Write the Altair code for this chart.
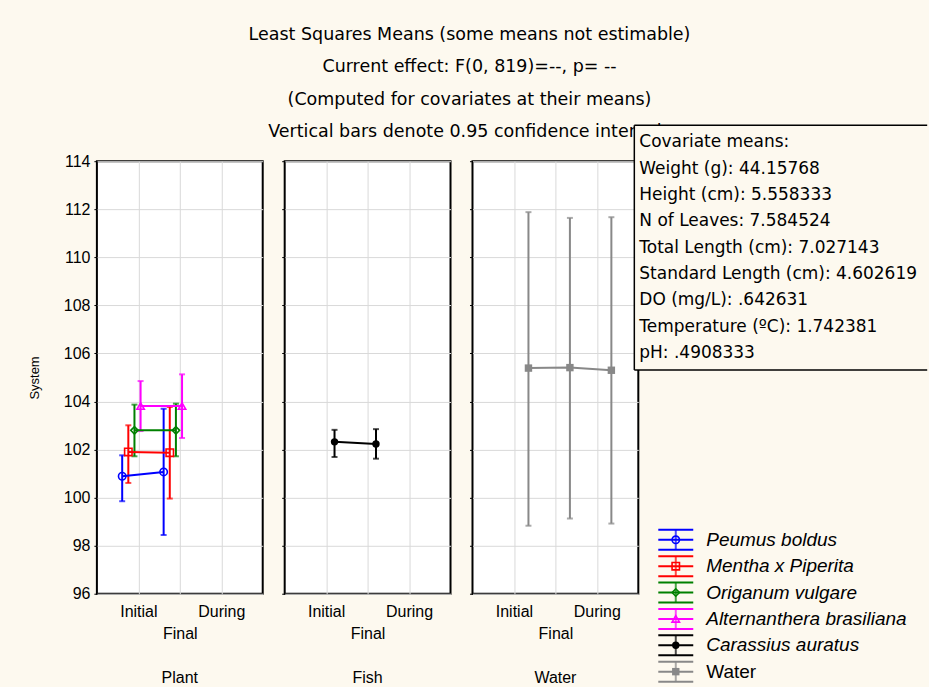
import altair as alt
import pandas as pd

# ---------------- data ----------------
SERIES = ["Peumus boldus", "Mentha x Piperita", "Origanum vulgare",
          "Alternanthera brasiliana", "Carassius auratus", "Water"]
SERIES_PANEL = ["Plant", "Plant", "Plant", "Plant", "Fish", "Water"]
PANELS = ["Plant", "Fish", "Water"]
TIMES = ["Initial", "Final", "During"]

ROW_SERIES = ["Peumus boldus", "Peumus boldus",
              "Mentha x Piperita", "Mentha x Piperita",
              "Origanum vulgare", "Origanum vulgare",
              "Alternanthera brasiliana", "Alternanthera brasiliana",
              "Carassius auratus", "Carassius auratus",
              "Water", "Water", "Water"]
ROW_TIME = ["Initial", "Final", "Initial", "Final", "Initial", "Final",
            "Initial", "Final", "Initial", "Final",
            "Initial", "Final", "During"]
ROW_MEAN = [100.89, 101.07, 101.90, 101.87, 102.80, 102.80,
            103.81, 103.81, 102.32, 102.23, 105.39, 105.41, 105.30]
ROW_LOW = [99.85, 98.44, 100.61, 99.96, 101.72, 101.72,
           102.77, 102.48, 101.69, 101.62, 98.83, 99.13, 98.92]
ROW_HIGH = [101.76, 103.70, 103.01, 103.77, 103.87, 103.91,
            104.85, 105.13, 102.82, 102.85, 111.88, 111.64, 111.67]

Y_TICKS = [96, 98, 100, 102, 104, 106, 108, 110, 112, 114]

TITLE_LINES = ["Least Squares Means (some means not estimable)",
               "Current effect: F(0, 819)=--, p=  --",
               "(Computed for covariates at their means)",
               "Vertical bars denote 0.95 confidence intervals"]
COVARIATE_LINES = ["Covariate means:",
                   "Weight (g): 44.15768",
                   "Height (cm): 5.558333",
                   "N of Leaves: 7.584524",
                   "Total Length (cm): 7.027143",
                   "Standard Length (cm): 4.602619",
                   "DO (mg/L): .642631",
                   "Temperature (ºC): 1.742381",
                   "pH: .4908333"]

# ---------------- styles ----------------
COLORS = ["#0000ff", "#ff0000", "#008000", "#ff00ff", "#000000", "#888888"]
SHAPES = ["circle", "square", "diamond", "triangle-up", "circle", "square"]
FILLED_SERIES = ["Carassius auratus", "Water"]
BG = "#fdf9ef"
GRID = "#d9d9d9"
FONT = "Liberation Sans"
FONT_WIDE = "DejaVu Sans"
DODGE_START = -0.39   # series dodge, in category units
DODGE_STEP = 0.148
PANEL_W = 166
PANEL_H = 433

df = pd.DataFrame({"series": ROW_SERIES, "time": ROW_TIME,
                   "mean": ROW_MEAN, "low": ROW_LOW, "high": ROW_HIGH})
df["panel"] = [SERIES_PANEL[SERIES.index(s)] for s in df["series"]]
df["xpos"] = [TIMES.index(t) + 1 + DODGE_START + DODGE_STEP * SERIES.index(s)
              for s, t in zip(df["series"], df["time"])]

COLOR = alt.Color("series:N", scale=alt.Scale(domain=SERIES, range=COLORS), legend=None)
SHAPE = alt.Shape("series:N", scale=alt.Scale(domain=SERIES, range=SHAPES), legend=None)

LABEL_EXPR = "datum.value == 1 ? 'Initial' : (datum.value == 3 ? 'During' : '')"


def panel(name, first):
    d = df[df["panel"] == name]
    xaxis = alt.Axis(values=[1, 2, 3], labelExpr=LABEL_EXPR, labelOverlap=False,
                     title="Final", grid=True, ticks=False, tickSize=0, domain=False,
                     labelPadding=10, titlePadding=6)
    X = alt.X("xpos:Q", scale=alt.Scale(domain=[0, 4], nice=False, zero=False), axis=xaxis)
    if first:
        yaxis = alt.Axis(values=Y_TICKS, grid=True, domain=False, tickSize=3,
                         labelPadding=4, title="System", titleFontSize=13,
                         titleX=-62, titleBaseline="middle")
    else:
        yaxis = alt.Axis(values=Y_TICKS, grid=True, domain=False, tickSize=3,
                         labels=False, title=None)
    ysc = alt.Scale(domain=[96, 114], nice=False, zero=False)

    def Y(field):
        return alt.Y(f"{field}:Q", scale=ysc, axis=yaxis)

    base = alt.Chart(d)
    bars = base.mark_rule(strokeWidth=2).encode(x=X, y=Y("low"), y2="high", color=COLOR)
    cap_lo = base.mark_tick(orient="horizontal", size=6, thickness=2).encode(
        x=X, y=Y("low"), color=COLOR)
    cap_hi = base.mark_tick(orient="horizontal", size=6, thickness=2).encode(
        x=X, y=Y("high"), color=COLOR)
    line = base.mark_line(strokeWidth=2).encode(x=X, y=Y("mean"), color=COLOR,
                                                detail="series:N")
    filled = name != "Plant"
    pts = base.mark_point(filled=filled, size=55, strokeWidth=1.6, opacity=1).encode(
        x=X, y=Y("mean"), color=COLOR, shape=SHAPE)
    return alt.layer(bars, cap_lo, cap_hi, line, pts).properties(
        width=PANEL_W, height=PANEL_H,
        title=alt.TitleParams(name, orient="bottom", anchor="middle", offset=28,
                              fontSize=16, font=FONT, fontWeight="normal", color="black"))


# ---------------- legend / annotation column ----------------
one = pd.DataFrame({"k": [0]})
leg_df = pd.DataFrame({"series": SERIES})
YL = alt.Y("series:N", scale=alt.Scale(type="point", domain=SERIES, range=[379, 511], padding=0),
           axis=None)

title_txt = alt.Chart(one).mark_text(
    text=TITLE_LINES, lineHeight=32.6, align="center", baseline="middle",
    font=FONT_WIDE, fontSize=17.5, color="black").encode(x=alt.value(-191), y=alt.value(-126.7))

box = alt.Chart(one).mark_rect(fill=BG).encode(
    x=alt.value(-26), x2=alt.value(268), y=alt.value(-36), y2=alt.value(209))
box_top = alt.Chart(one).mark_rule(color="black", strokeWidth=1.5).encode(
    x=alt.value(-26), x2=alt.value(267.2), y=alt.value(-36))
box_left = alt.Chart(one).mark_rule(color="black", strokeWidth=1.5).encode(
    x=alt.value(-26), y=alt.value(-36), y2=alt.value(209))
box_bottom = alt.Chart(one).mark_rule(color="black", strokeWidth=1.5).encode(
    x=alt.value(-26), x2=alt.value(267.2), y=alt.value(209))
box_txt = alt.Chart(one).mark_text(
    text=COVARIATE_LINES, lineHeight=26.4, align="left", baseline="middle",
    font=FONT_WIDE, fontSize=17, color="black").encode(x=alt.value(-21), y=alt.value(-19))

lb = alt.Chart(leg_df)
leg_layers = []
for off in (-10, 0, 10):
    leg_layers.append(lb.mark_rule(yOffset=off, strokeWidth=2).encode(
        x=alt.value(-2), x2=alt.value(33), y=YL, color=COLOR))
leg_layers.append(lb.mark_tick(orient="vertical", size=20, thickness=2).encode(
    x=alt.value(15.5), y=YL, color=COLOR))
filled_test = "indexof(" + str(FILLED_SERIES).replace("'", '"') + ", datum.series) >= 0"
leg_layers.append(lb.transform_filter("!(" + filled_test + ")").mark_point(
    filled=False, size=55, strokeWidth=1.6, opacity=1).encode(
    x=alt.value(15.5), y=YL, color=COLOR, shape=SHAPE))
leg_layers.append(lb.transform_filter(filled_test).mark_point(
    filled=True, size=55, opacity=1).encode(
    x=alt.value(15.5), y=YL, color=COLOR, shape=SHAPE))
leg_layers.append(lb.transform_filter("datum.series != 'Water'").mark_text(
    align="left", baseline="middle", font=FONT, fontSize=19, fontStyle="italic",
    color="black").encode(x=alt.value(46), y=YL, text="series:N"))
leg_layers.append(lb.transform_filter("datum.series == 'Water'").mark_text(
    align="left", baseline="middle", font=FONT, fontSize=19,
    color="black").encode(x=alt.value(46), y=YL, text="series:N"))

leg = alt.layer(title_txt, box, box_top, box_left, box_bottom, box_txt, *leg_layers).properties(
    width=266, height=PANEL_H,
    view=alt.ViewBackground(fill="transparent", stroke="transparent"))

chart = alt.hconcat(panel("Plant", True), panel("Fish", False), panel("Water", False), leg,
                    spacing=22, bounds="flush").properties(
    padding={"left": 28, "top": 24, "right": 0, "bottom": 1}
).configure(background=BG).configure_view(
    fill="white", stroke="black", strokeWidth=2
).configure_axis(
    labelFont=FONT, titleFont=FONT, labelFontSize=16, titleFontSize=16,
    labelColor="black", titleColor="black", titleFontWeight="normal",
    gridColor=GRID, gridWidth=1, tickColor="black"
)

chart.save("out.html", embed_options={"renderer": "svg", "actions": False})
